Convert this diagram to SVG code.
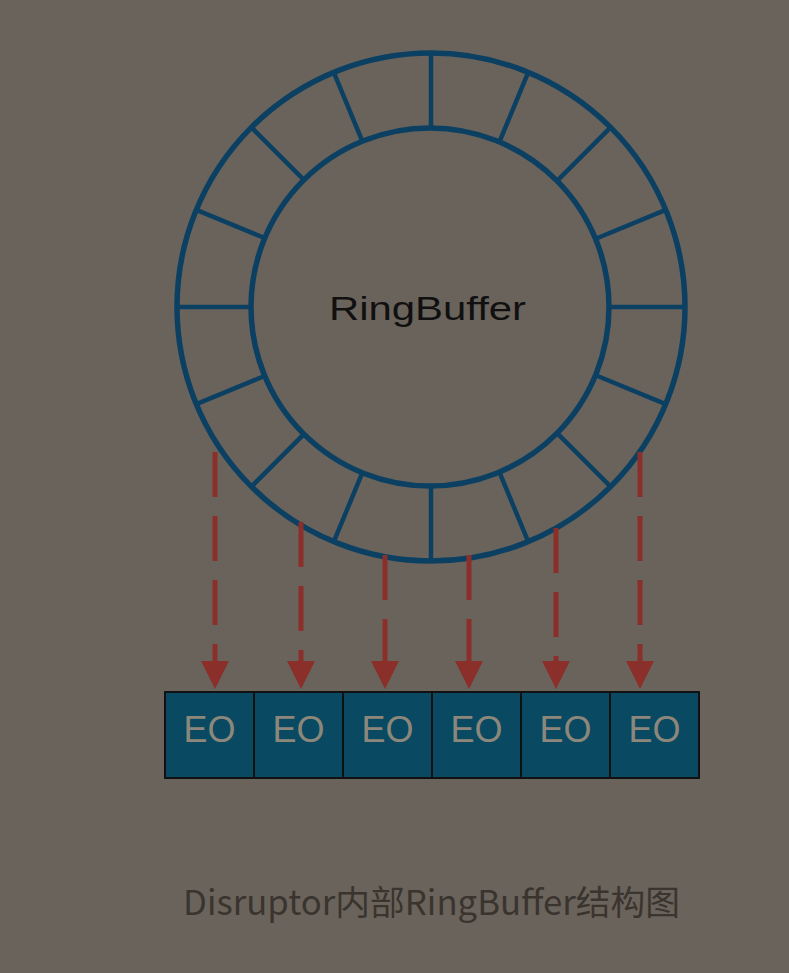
<svg xmlns="http://www.w3.org/2000/svg" width="789" height="973" viewBox="0 0 789 973">
  <style>
    .ring { fill: none; stroke: #0c4063; stroke-width: 5.5; }
    .spoke { stroke: #0c4063; stroke-width: 4.5; }
    .dash { stroke: #8b2f2b; stroke-width: 5; stroke-dasharray: 45 19; fill: none; }
    .head { fill: #8b2f2b; }
    .cell { fill: #094a62; stroke: #111; stroke-width: 2; }
    .eo { font-family: "Liberation Sans", Arial, sans-serif; font-size: 36px; fill: #8d877b; text-anchor: middle; }
    .title { font-family: "Liberation Sans", "DejaVu Sans", sans-serif; font-size: 34px; fill: #111010; }
    .caption { font-family: "Noto Sans CJK SC", "Noto Sans", sans-serif; font-size: 34px; fill: #3a342f; }
  </style>
  <rect x="0" y="0" width="789" height="973" fill="#6a635b"/>

  <g id="ringbuffer">
    <circle class="ring" cx="431" cy="307" r="254"/>
    <circle class="ring" cx="430" cy="307" r="179"/>
    <g>
      <line class="spoke" x1="431" y1="128" x2="431" y2="53"/>
      <line class="spoke" x1="431" y1="128" x2="431" y2="53" transform="rotate(22.5 431 307)"/>
      <line class="spoke" x1="431" y1="128" x2="431" y2="53" transform="rotate(45 431 307)"/>
      <line class="spoke" x1="431" y1="128" x2="431" y2="53" transform="rotate(67.5 431 307)"/>
      <line class="spoke" x1="431" y1="128" x2="431" y2="53" transform="rotate(90 431 307)"/>
      <line class="spoke" x1="431" y1="128" x2="431" y2="53" transform="rotate(112.5 431 307)"/>
      <line class="spoke" x1="431" y1="128" x2="431" y2="53" transform="rotate(135 431 307)"/>
      <line class="spoke" x1="431" y1="128" x2="431" y2="53" transform="rotate(157.5 431 307)"/>
      <line class="spoke" x1="431" y1="128" x2="431" y2="53" transform="rotate(180 431 307)"/>
      <line class="spoke" x1="431" y1="128" x2="431" y2="53" transform="rotate(202.5 431 307)"/>
      <line class="spoke" x1="431" y1="128" x2="431" y2="53" transform="rotate(225 431 307)"/>
      <line class="spoke" x1="431" y1="128" x2="431" y2="53" transform="rotate(247.5 431 307)"/>
      <line class="spoke" x1="431" y1="128" x2="431" y2="53" transform="rotate(270 431 307)"/>
      <line class="spoke" x1="431" y1="128" x2="431" y2="53" transform="rotate(292.5 431 307)"/>
      <line class="spoke" x1="431" y1="128" x2="431" y2="53" transform="rotate(315 431 307)"/>
      <line class="spoke" x1="431" y1="128" x2="431" y2="53" transform="rotate(337.5 431 307)"/>
    </g>
    <text class="title" x="329" y="320" textLength="197" lengthAdjust="spacingAndGlyphs">RingBuffer</text>
  </g>

  <g id="connectors">
    <line class="dash" x1="215" y1="452" x2="215" y2="662"/>
    <polygon class="head" points="201,661 229,661 215,689"/>
    <line class="dash" x1="301" y1="522" x2="301" y2="662"/>
    <polygon class="head" points="287,661 315,661 301,689"/>
    <line class="dash" x1="385" y1="555" x2="385" y2="662"/>
    <polygon class="head" points="371,661 399,661 385,689"/>
    <line class="dash" x1="469" y1="555" x2="469" y2="662"/>
    <polygon class="head" points="455,661 483,661 469,689"/>
    <line class="dash" x1="556" y1="528" x2="556" y2="662"/>
    <polygon class="head" points="542,661 570,661 556,689"/>
    <line class="dash" x1="640" y1="452" x2="640" y2="662"/>
    <polygon class="head" points="626,661 654,661 640,689"/>
  </g>

  <g id="eo1"><rect class="cell" x="165" y="692" width="89" height="86"/><text class="eo" x="209.5" y="742">EO</text></g>
  <g id="eo2"><rect class="cell" x="254" y="692" width="89" height="86"/><text class="eo" x="298.5" y="742">EO</text></g>
  <g id="eo3"><rect class="cell" x="343" y="692" width="89" height="86"/><text class="eo" x="387.5" y="742">EO</text></g>
  <g id="eo4"><rect class="cell" x="432" y="692" width="89" height="86"/><text class="eo" x="476.5" y="742">EO</text></g>
  <g id="eo5"><rect class="cell" x="521" y="692" width="89" height="86"/><text class="eo" x="565.5" y="742">EO</text></g>
  <g id="eo6"><rect class="cell" x="610" y="692" width="89" height="86"/><text class="eo" x="654.5" y="742">EO</text></g>

  <text class="caption" x="183" y="915" textLength="497" lengthAdjust="spacingAndGlyphs">Disruptor内部RingBuffer结构图</text>
</svg>
